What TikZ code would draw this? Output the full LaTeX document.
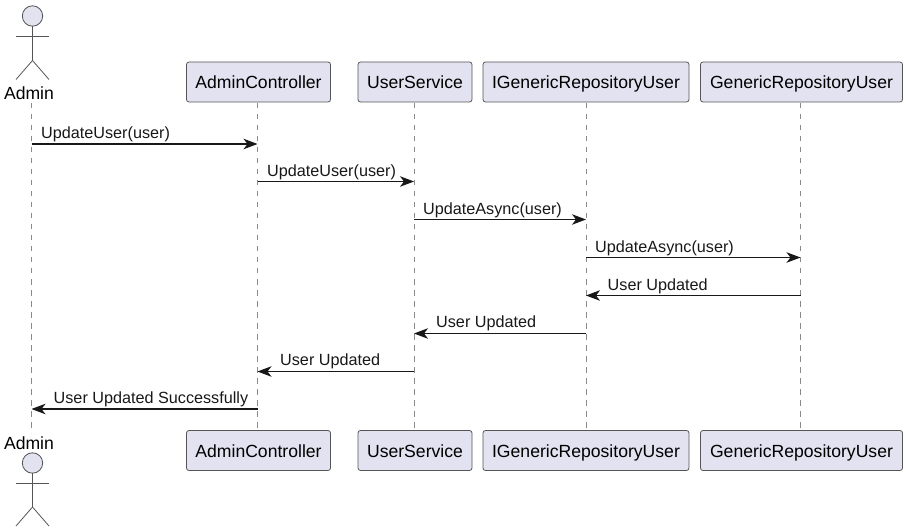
\documentclass[tikz,border=0pt]{standalone}
\usepackage{fontspec}
\setmainfont{Liberation Sans}
\usetikzlibrary{arrows.meta}
\definecolor{partfill}{HTML}{E2E2F0}
\definecolor{partline}{HTML}{555555}
\definecolor{lifeline}{HTML}{8A8A8A}
\definecolor{msgline}{HTML}{181818}
\tikzset{
    part/.style={draw=partline, fill=partfill, rounded corners=2.5pt, line width=0.8pt, minimum height=40pt, inner sep=0pt, text height=15.5pt, text depth=2pt, text=black, font=\fontsize{17.6}{20}\selectfont},
    actorname/.style={inner sep=0pt, text=black, font=\fontsize{17.6}{20}\selectfont},
    actorline/.style={draw=partline, line width=0.8pt},
    life/.style={draw=lifeline, line width=1pt, dash pattern=on 5.5pt off 5.5pt},
    msg/.style={draw=msgline, line width=1.1pt, -{Stealth[length=14pt,width=10.5pt,inset=4pt]}},
    msglabel/.style={anchor=base west, inner sep=0pt, text=msgline, font=\fontsize{16.2}{18}\selectfont}
}
\begin{document}
\begin{tikzpicture}[x=1pt,y=-1pt]
    \useasboundingbox (0,0) rectangle (906,532);
    % top row
    \node[actorname] (admintop) at (29,93) {Admin};
    \node[part, minimum width=144pt] (ctrltop) at (258.5,82) {AdminController};
    \node[part, minimum width=114pt] (svctop) at (415,82) {UserService};
    \node[part, minimum width=206pt] (ifacetop) at (586,82) {IGenericRepositoryUser};
    \node[part, minimum width=202pt] (repotop) at (801.5,82) {GenericRepositoryUser};
    % bottom row
    \node[actorname] (adminend) at (29,443) {Admin};
    \node[part, minimum width=144pt] (ctrlend) at (258.5,450.5) {AdminController};
    \node[part, minimum width=114pt] (svcend) at (415,450.5) {UserService};
    \node[part, minimum width=206pt] (ifaceend) at (586,450.5) {IGenericRepositoryUser};
    \node[part, minimum width=202pt] (repoend) at (801.5,450.5) {GenericRepositoryUser};
    % lifelines
    \coordinate (admin) at (31.5,103);
    \coordinate (adminb) at (31.5,433);
    \coordinate (ctrl) at (257.5,103);
    \coordinate (ctrlb) at (257.5,430);
    \coordinate (svc) at (414,103);
    \coordinate (svcb) at (414,430);
    \coordinate (iface) at (586,103);
    \coordinate (ifaceb) at (586,430);
    \coordinate (repo) at (800.5,103);
    \coordinate (repob) at (800.5,430);
    \draw[life] (admin) -- (adminb);
    \draw[life] (ctrl) -- (ctrlb);
    \draw[life] (svc) -- (svcb);
    \draw[life] (iface) -- (ifaceb);
    \draw[life] (repo) -- (repob);
    % actors
    \draw[actorline, fill=partfill] (32.5,16) circle(10.2);
    \draw[actorline] (32.5,26.2) -- (32.5,60.5) -- (16,79.5);
    \draw[actorline] (32.5,60.5) -- (49,79.5);
    \draw[actorline] (16,36.7) -- (49,36.7);
    \draw[actorline, fill=partfill] (32.5,463) circle(10.2);
    \draw[actorline] (32.5,473.2) -- (32.5,507) -- (16,526);
    \draw[actorline] (32.5,507) -- (49,526);
    \draw[actorline] (16,483.2) -- (49,483.2);
    % messages
    \coordinate (m1) at (0,144);
    \coordinate (m2) at (0,181.5);
    \coordinate (m3) at (0,219.5);
    \coordinate (m4) at (0,257.5);
    \coordinate (m5) at (0,295.5);
    \coordinate (m6) at (0,333.5);
    \coordinate (m7) at (0,371.5);
    \coordinate (m8) at (0,409);
    \draw[msg] (admin |- m1) -- (ctrl |- m1);
    \draw[msg] (ctrl |- m2) -- (svc |- m2);
    \draw[msg] (svc |- m3) -- (iface |- m3);
    \draw[msg] (iface |- m4) -- (repo |- m4);
    \draw[msg] (repo |- m5) -- (iface |- m5);
    \draw[msg] (iface |- m6) -- (svc |- m6);
    \draw[msg] (svc |- m7) -- (ctrl |- m7);
    \draw[msg] (ctrl |- m8) -- (admin |- m8);
    \node[msglabel] (l1) at (41,138.5) {UpdateUser(user)};
    \node[msglabel] (l2) at (267,176.5) {UpdateUser(user)};
    \node[msglabel] (l3) at (423,214.5) {UpdateAsync(user)};
    \node[msglabel] (l4) at (595,252) {UpdateAsync(user)};
    \node[msglabel] (l5) at (607.5,290.5) {User Updated};
    \node[msglabel] (l6) at (436,327.5) {User Updated};
    \node[msglabel] (l7) at (280,365.5) {User Updated};
    \node[msglabel] (l8) at (53.5,403) {User Updated Successfully};
\end{tikzpicture}
\end{document}
